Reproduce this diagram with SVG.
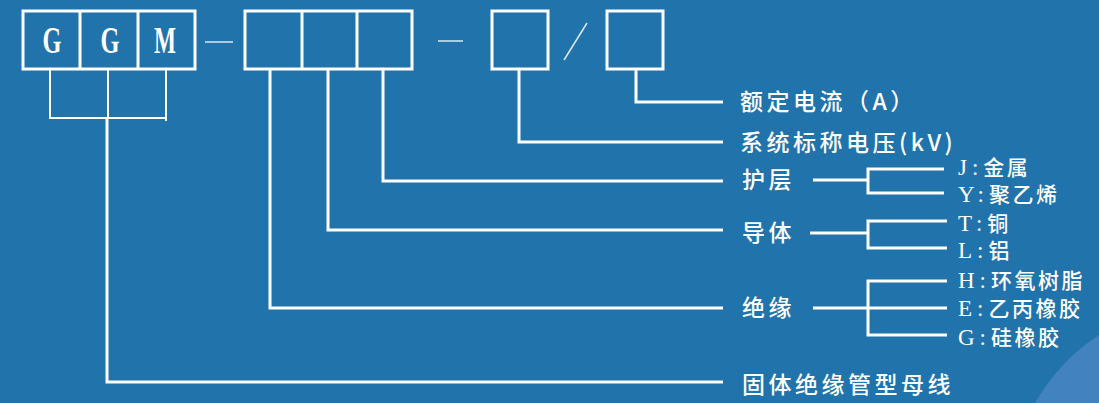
<svg xmlns="http://www.w3.org/2000/svg" width="1099" height="403" viewBox="0 0 1099 403">
<defs>
<style>
.bx{fill:none;stroke:#ffffff;stroke-width:3}
.ln{fill:none;stroke:#ffffff;stroke-width:3}
.thin{fill:none;stroke:#ffffff;stroke-width:2}
.code{font-family:"Liberation Serif",serif;font-size:38px;font-weight:bold;fill:#ffffff;text-anchor:middle}
.lbl{font-family:"Noto Sans CJK SC","Noto Sans",sans-serif;font-size:23px;font-weight:500;letter-spacing:3.5px;fill:#ffffff}
.sub{font-family:"Noto Sans CJK SC","Noto Sans",sans-serif;font-size:21px;font-weight:500;letter-spacing:2.5px;fill:#ffffff}
.lat{font-family:"Liberation Serif",serif;font-size:23px;font-weight:400;letter-spacing:5px}
</style>
</defs>
<rect width="1099" height="403" fill="#2173ab"/>
<path d="M1035 403 Q1060 360 1099 335 L1099 403 Z" fill="#4a86c4" opacity="0.8"/>
<g id="node-ggm">
<rect class="bx" x="23" y="11" width="172" height="58"/>
<line class="bx" x1="80" y1="11" x2="80" y2="69"/>
<line class="bx" x1="138" y1="11" x2="138" y2="69"/>
<text class="code" x="52" y="53" textLength="19" lengthAdjust="spacingAndGlyphs">G</text>
<text class="code" x="110" y="53" textLength="19" lengthAdjust="spacingAndGlyphs">G</text>
<text class="code" x="165" y="53" textLength="22" lengthAdjust="spacingAndGlyphs">M</text>
</g>
<g id="node-code2">
<rect class="bx" x="245" y="11" width="167" height="58"/>
<line class="bx" x1="302" y1="11" x2="302" y2="69"/>
<line class="bx" x1="357" y1="11" x2="357" y2="69"/>
</g>
<g id="node-voltage-box">
<rect class="bx" x="492" y="11" width="56" height="58"/>
</g>
<g id="node-current-box">
<rect class="bx" x="607" y="11" width="56" height="58"/>
</g>
<g id="separators">
<line x1="205" y1="42" x2="233" y2="42" stroke="#dce8f2" stroke-width="1.5"/>
<line x1="438" y1="41" x2="463" y2="41" stroke="#dce8f2" stroke-width="1.5"/>
<line x1="564" y1="60" x2="587" y2="23" stroke="#dce8f2" stroke-width="1.5"/>
</g>
<g id="connectors">
<polyline class="thin" points="50,69 50,118 166,118"/>
<line class="thin" x1="166" y1="69" x2="166" y2="121"/>
<line class="thin" x1="108" y1="69" x2="108" y2="118"/>
<polyline class="ln" points="107,118 107,382 723,382"/>
<polyline class="ln" points="270,69 270,308 723,308"/>
<polyline class="ln" points="328,69 328,230 723,230"/>
<polyline class="ln" points="383,69 383,181 723,181"/>
<polyline class="ln" points="519,69 519,142 723,142"/>
<polyline class="ln" points="636,69 636,102 723,102"/>
<line class="ln" x1="813" y1="180" x2="868" y2="180"/>
<polyline class="ln" points="944,169 868,169 868,193 944,193"/>
<line class="ln" x1="810" y1="233" x2="868" y2="233"/>
<polyline class="ln" points="947,221 868,221 868,248 947,248"/>
<line class="ln" x1="813" y1="308" x2="947" y2="308"/>
<polyline class="ln" points="947,281 868,281 868,335 947,335"/>
</g>
<g id="label-current"><text class="lbl" x="740" y="110">额定电流（A）</text></g>
<g id="label-voltage"><text class="lbl" x="740" y="151">系统标称电压(kV)</text></g>
<g id="label-sheath"><text class="lbl" x="742" y="188">护层</text></g>
<g id="label-conductor"><text class="lbl" x="742" y="241">导体</text></g>
<g id="label-insulation"><text class="lbl" x="742" y="316">绝缘</text></g>
<g id="label-busbar"><text class="lbl" x="742" y="393">固体绝缘管型母线</text></g>
<g id="sub-sheath">
<text class="sub" x="958" y="175"><tspan class="lat">J:</tspan>金属</text>
<text class="sub" x="958" y="202"><tspan class="lat">Y:</tspan>聚乙烯</text>
</g>
<g id="sub-conductor">
<text class="sub" x="958" y="231"><tspan class="lat">T:</tspan>铜</text>
<text class="sub" x="958" y="258"><tspan class="lat">L:</tspan>铝</text>
</g>
<g id="sub-insulation">
<text class="sub" x="958" y="288"><tspan class="lat">H:</tspan>环氧树脂</text>
<text class="sub" x="958" y="316"><tspan class="lat">E:</tspan>乙丙橡胶</text>
<text class="sub" x="958" y="345"><tspan class="lat">G:</tspan>硅橡胶</text>
</g>
</svg>
